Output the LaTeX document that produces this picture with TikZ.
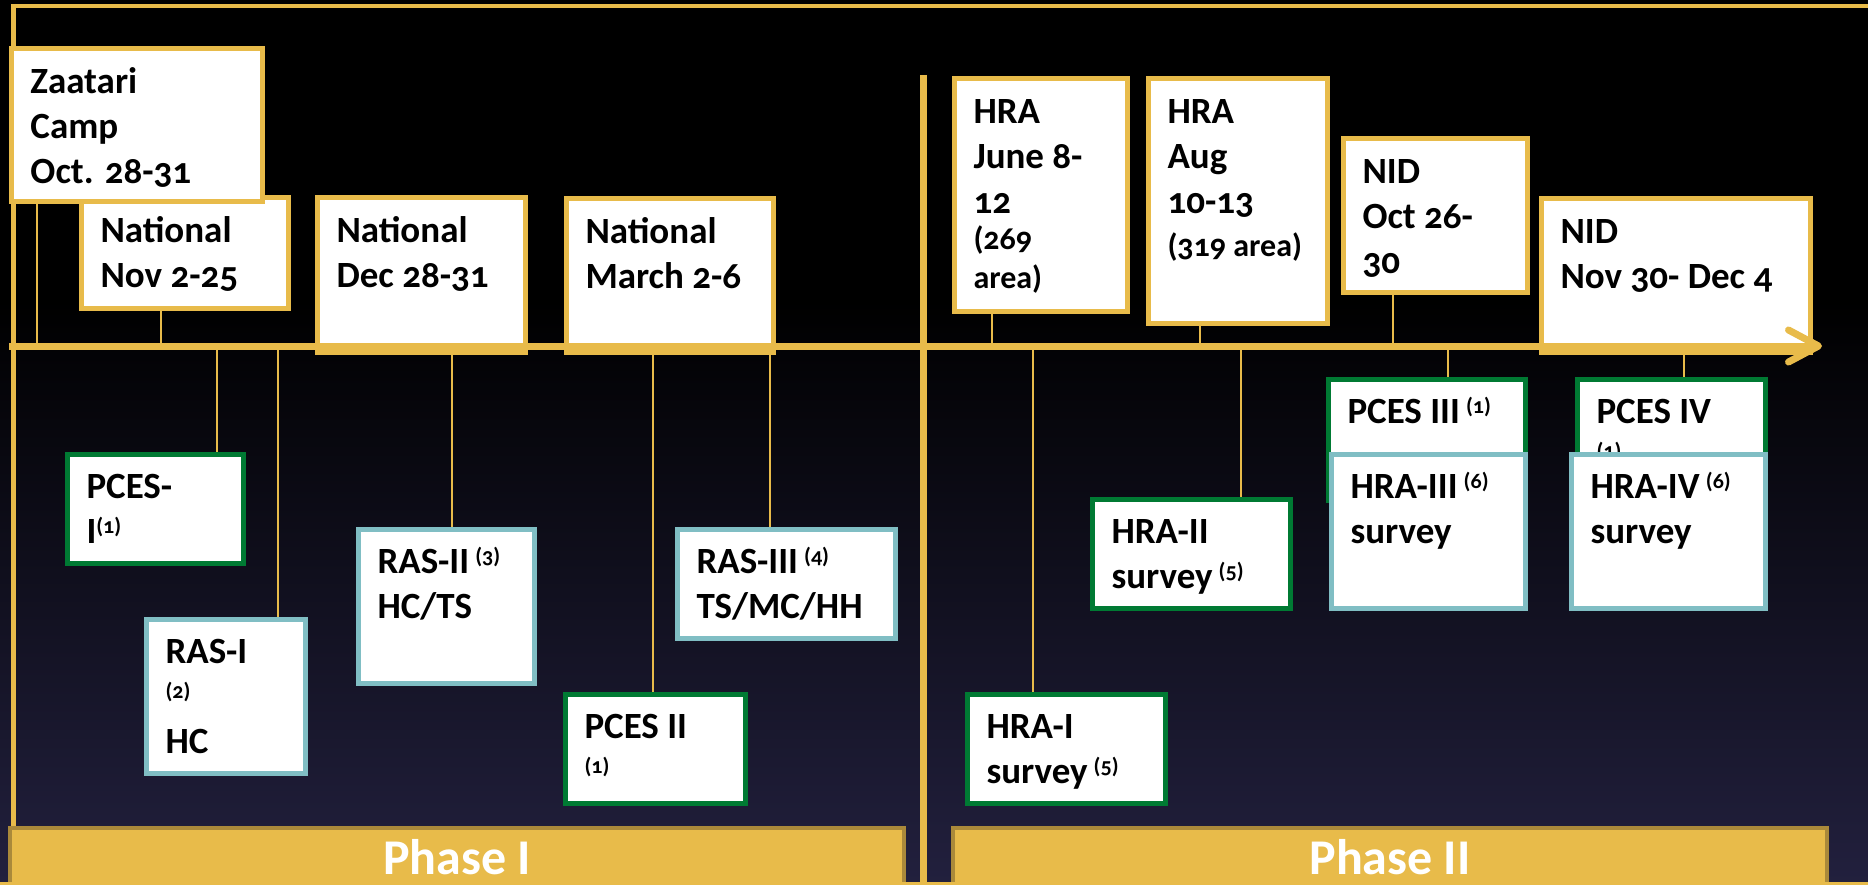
\documentclass[tikz,border=0pt]{standalone}
\usepackage{fontspec}
\setmainfont{Carlito}[Numbers=OldStyle]
\usetikzlibrary{arrows.meta}

\definecolor{gold}{RGB}{232,187,74}
\definecolor{golddark}{RGB}{170,137,58}
\definecolor{pcesgreen}{RGB}{0,122,51}
\definecolor{rasblue}{RGB}{128,190,196}
\definecolor{nightblue}{RGB}{34,32,62}

\newcommand{\card}[3]{\parbox[t][#2pt][t]{#1pt}{\raggedright\strut#3}}
\newcommand{\refmark}[1]{\raisebox{10pt}{\fontsize{22}{22}\selectfont(#1)}}
\newcommand{\smalltxt}{\fontsize{32}{40}\selectfont}

\tikzset{
  card/.style={draw, line width=5pt, fill=white, anchor=north west,
    inner xsep=19.5pt, inner ysep=13pt, font=\fontsize{37}{45}\selectfont\bfseries},
  datebox/.style={card, draw=gold},
  pcesbox/.style={card, draw=pcesgreen},
  rasbox/.style={card, draw=rasblue},
  tick/.style={draw=gold, line width=2pt},
  phase/.style={fill=gold, draw=golddark, line width=4pt, anchor=north west,
    text=white, font=\fontsize{50}{60}\selectfont\bfseries},
}

\begin{document}
\begin{tikzpicture}[x=1pt,y=-1pt]
                \useasboundingbox (0,0) rectangle (1868,885);
                % Background
                \fill[black] (0,0) rectangle (1868,885);
                \shade[top color=black, bottom color=nightblue] (0,300) rectangle (1868,885);

                % Frame and divider
                \draw[gold, line width=4pt] (11,6) -- (1868,6);
                \draw[gold, line width=5pt] (13,4) -- (13,830);
                \draw[gold, line width=7pt] (923,75) -- (923,885);
                \coordinate (axis) at (0,346);
                \coordinate (start) at (9,346);
                \coordinate (end) at (1822,346);

                % Campaigns above the axis
                \node[datebox] (nov) at (78.5,195.5) {\card{168}{84}{National\\Nov 2-25}};
                \node[datebox] (zaatari) at (8.5,46.5) {\card{212}{127}{Zaatari\\Camp\\Oct. 28-31}};
                \node[datebox] (dec) at (314.5,195.5) {\card{169}{128}{National\\Dec 28-31}};
                \node[datebox] (march) at (563.5,196.5) {\card{168}{127}{National\\March 2-6}};
                \node[datebox] (hrajune) at (951.5,76.5) {\card{134}{206}{HRA\\June 8-\\12\\[-4pt]{\smalltxt (269\\[-6pt] area)}}};
                \node[datebox] (hraaug) at (1145.5,76.5) {\card{140}{218}{HRA\\Aug\\10-13\\[-2pt]{\smalltxt (319 area)}}};
                \node[datebox] (nidoct) at (1340.5,136.5) {\card{145}{128}{NID\\Oct 26-\\30}};
                \node[datebox] (nidnov) at (1538.5,196.5) {\card{230}{127}{NID\\Nov 30- Dec 4}};

                % Time axis
                \draw[gold, line width=7pt, -{Straight Barb[length=30pt,width=32pt,line width=7pt,round]}] (start) -- (end);

                % Surveys below the axis
                \node[pcesbox] (pces1) at (64.5,451.5) {\card{137}{83}{PCES-\\I\refmark{1}}};
                \node[rasbox] (ras1) at (143.5,616.5) {\card{120}{128}{RAS-I\\\refmark{2}\\HC}};
                \node[rasbox] (ras2) at (355.5,526.5) {\card{137}{128}{RAS-II\,\refmark{3}\\HC/TS}};
                \node[pcesbox] (pces2) at (562.5,691.5) {\card{141}{83}{PCES II\\\refmark{1}}};
                \node[rasbox] (ras3) at (674.5,526.5) {\card{179}{83}{RAS-III\,\refmark{4}\\TS/MC/HH}};
                \node[pcesbox] (hra1) at (964.5,691.5) {\card{159}{83}{HRA-I\\survey\,\refmark{5}}};
                \node[pcesbox] (hra2) at (1089.5,496.5) {\card{159}{83}{HRA-II\\survey\,\refmark{5}}};
                \node[pcesbox] (pces3) at (1325.5,376.5) {\card{158}{95}{PCES III\,\refmark{1}}};
                \node[rasbox] (hra3) at (1328.5,451.5) {\card{155}{128}{HRA-III\,\refmark{6}\\survey}};
                \node[pcesbox] (pces4) at (1574.5,376.5) {\card{149}{95}{PCES IV\\\refmark{1}}};
                \node[rasbox] (hra4) at (1568.5,451.5) {\card{155}{128}{HRA-IV\,\refmark{6}\\survey}};

                % Ticks
                \draw[tick] (zaatari.south -| 37,0) -- (axis -| 37,0);
                \draw[tick] (nov.south -| 161,0) -- (axis -| 161,0);
                \draw[tick] (axis -| 217,0) -- (pces1.north -| 217,0);
                \draw[tick] (axis -| 278,0) -- (ras1.north -| 278,0);
                \draw[tick] (axis -| 452,0) -- (ras2.north -| 452,0);
                \draw[tick] (axis -| 653,0) -- (pces2.north -| 653,0);
                \draw[tick] (axis -| 770,0) -- (ras3.north -| 770,0);
                \draw[tick] (hrajune.south -| 992,0) -- (axis -| 992,0);
                \draw[tick] (hraaug.south -| 1200,0) -- (axis -| 1200,0);
                \draw[tick] (axis -| 1033,0) -- (hra1.north -| 1033,0);
                \draw[tick] (axis -| 1241,0) -- (hra2.north -| 1241,0);
                \draw[tick] (nidoct.south -| 1393,0) -- (axis -| 1393,0);
                \draw[tick] (axis -| 1448,0) -- (pces3.north -| 1448,0);
                \draw[tick] (axis -| 1684,0) -- (pces4.north -| 1684,0);

                % Phases
                \node[phase, minimum width=894pt, minimum height=58pt] (phase1) at (8,826) {Phase I};
                \node[phase, minimum width=874pt, minimum height=58pt] (phase2) at (951,826) {Phase II};
                \draw[gold, line width=3pt] (0,883.5) -- (1868,883.5);
            \end{tikzpicture}
\end{document}
